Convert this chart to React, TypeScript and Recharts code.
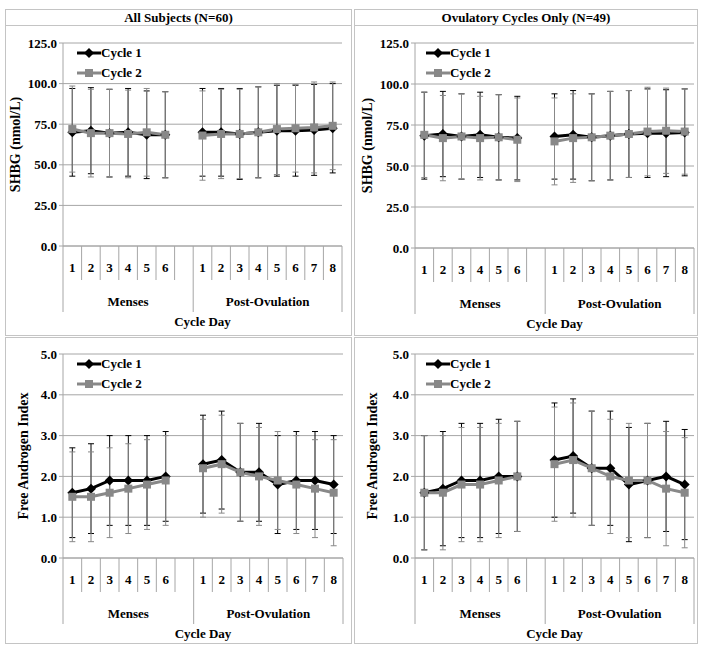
import { CartesianGrid, ErrorBar, Legend, Line, LineChart, XAxis, YAxis } from 'recharts'

const FONT = '"Liberation Serif", "Times New Roman", serif'
const GRAY = '#888888'
const GRID = '#a6a6a6'
const FRAME = '#c4c4c4'

// category axis
const mensesDays = ['1', '2', '3', '4', '5', '6']
const postDays = ['1', '2', '3', '4', '5', '6', '7', '8']
const groupNames = ['Menses', 'Post-Ovulation']
const seriesNames = ['Cycle 1', 'Cycle 2']
const panelTitles = ['All Subjects (N=60)', 'Ovulatory Cycles Only (N=49)']
const shbgTicks = [0, 25, 50, 75, 100, 125]
const faiTicks = [0, 1, 2, 3, 4, 5]

// SHBG (nmol/L), all subjects: mean and SD, menses 1-6 then post-ovulation 1-8
const allShbgC1 = [70, 71, 69.5, 70, 68.5, 68.5, 70, 70, 69, 70, 71, 71, 71.5, 72.5]
const allShbgC1Sd = [27, 26.5, 27, 27, 27, 26.5, 27, 27, 28, 28, 28, 28, 28, 27.5]
const allShbgC2 = [72, 69.5, 69.5, 69, 70, 68.5, 68, 69, 69, 70, 72, 72.5, 73, 74]
const allShbgC2Sd = [26.5, 27, 27, 27, 27, 26.5, 27.5, 27.5, 27.5, 28, 28, 27, 28, 27]

// SHBG, ovulatory cycles only
const ovShbgC1 = [68.5, 69.5, 68, 69, 67.5, 67, 68, 69, 67.5, 68.5, 69.5, 70, 70, 70.5]
const ovShbgC1Sd = [26.5, 26, 26, 26, 26, 25.5, 26, 27, 26.5, 27, 26.5, 27, 26.5, 26.5]
const ovShbgC2 = [69, 67, 68, 67, 67.5, 66, 65, 67, 67.5, 68.5, 69.5, 71, 71.5, 71]
const ovShbgC2Sd = [26, 26, 26, 25.5, 26, 25.5, 26.5, 27, 26.5, 27, 26.5, 27, 26, 26]

// Free androgen index, all subjects
const allFaiC1 = [1.6, 1.7, 1.9, 1.9, 1.9, 2.0, 2.3, 2.4, 2.1, 2.1, 1.8, 1.9, 1.9, 1.8]
const allFaiC1Sd = [1.1, 1.1, 1.1, 1.1, 1.1, 1.1, 1.2, 1.2, 1.2, 1.2, 1.2, 1.2, 1.2, 1.2]
const allFaiC2 = [1.5, 1.5, 1.6, 1.7, 1.8, 1.9, 2.2, 2.3, 2.1, 2.0, 1.9, 1.8, 1.7, 1.6]
const allFaiC2Sd = [1.1, 1.1, 1.1, 1.1, 1.1, 1.1, 1.2, 1.2, 1.2, 1.2, 1.2, 1.2, 1.2, 1.3]

// Free androgen index, ovulatory cycles only
const ovFaiC1 = [1.6, 1.7, 1.9, 1.9, 2.0, 2.0, 2.4, 2.5, 2.2, 2.2, 1.8, 1.9, 2.0, 1.8]
const ovFaiC1Sd = [1.4, 1.4, 1.4, 1.4, 1.4, 1.35, 1.4, 1.4, 1.4, 1.4, 1.4, 1.4, 1.35, 1.35]
const ovFaiC2 = [1.6, 1.6, 1.8, 1.8, 1.9, 2.0, 2.3, 2.4, 2.2, 2.0, 1.9, 1.9, 1.7, 1.6]
const ovFaiC2Sd = [1.4, 1.4, 1.4, 1.4, 1.4, 1.35, 1.4, 1.4, 1.4, 1.4, 1.4, 1.4, 1.4, 1.35]

// slot layout: Menses days, one empty slot, then Post-Ovulation days
const groups = [
    { name: groupNames[0], days: mensesDays, trailing: 1 },
    { name: groupNames[1], days: postDays, trailing: 0 },
]
const dayAt = new Map<number, string>()
const groupAt = new Map<number, string>()
const groupEdges = new Set<number>([0])
const gapSlots: number[] = []
let cursor = 0
groups.forEach((g) => {
    const start = cursor
    g.days.forEach((d, i) => dayAt.set(start + i + 0.5, d))
    cursor += g.days.length
    for (let t = 0; t < g.trailing; t++) {
        gapSlots.push(cursor + 0.5)
        cursor++
    }
    groupAt.set((start + cursor) / 2, g.name)
    groupEdges.add(cursor)
})
const slotCount = cursor
const xTicks = Array.from({ length: slotCount * 2 + 1 }, (_, i) => i / 2)

function buildRows(c1: number[], c1e: number[], c2: number[], c2e: number[]) {
    const rows: any[] = []
    const positions = [...dayAt.keys()]
    positions.forEach((x, k) => rows.push({ x, c1: c1[k], c1e: c1e[k], c2: c2[k], c2e: c2e[k] }))
    gapSlots.forEach((x) => rows.push({ x, c1: null, c2: null }))
    return rows.sort((a, b) => a.x - b.x)
}

function CategoryTick(props: any) {
    const { x, y, payload } = props
    const v = payload.value
    const day = dayAt.get(v)
    const group = groupAt.get(v)
    return (
        <g>
            {Number.isInteger(v) && (
                <line x1={x} x2={x} y1={y} y2={y + (groupEdges.has(v) ? 66 : 34)} stroke={GRID} />
            )}
            {day && (
                <text x={x} y={y + 26} textAnchor="middle" fontFamily={FONT} fontWeight="bold" fontSize={13} fill="#000">
                    {day}
                </text>
            )}
            {group && (
                <text x={x} y={y + 60} textAnchor="middle" fontFamily={FONT} fontWeight="bold" fontSize={13} fill="#000">
                    {group}
                </text>
            )}
        </g>
    )
}

const Diamond = (p: any) => {
    const { cx, cy } = p
    if (cx == null || cy == null) return <g key={p.key} />
    return <path key={p.key} d={`M${cx},${cy - 5}L${cx + 5},${cy}L${cx},${cy + 5}L${cx - 5},${cy}Z`} fill="#000" />
}
const Square = (p: any) => {
    const { cx, cy } = p
    if (cx == null || cy == null) return <g key={p.key} />
    return <rect key={p.key} x={cx - 4} y={cy - 4} width={8} height={8} fill={GRAY} />
}

function LegendBox() {
    const rows = [
        { name: seriesNames[0], color: '#000', marker: <path d="M12,1L17,6L12,11L7,6Z" fill="#000" /> },
        { name: seriesNames[1], color: GRAY, marker: <rect x={8} y={2} width={8} height={8} fill={GRAY} /> },
    ]
    return (
        <div style={{ fontFamily: FONT, fontWeight: 'bold', fontSize: 13, color: '#000' }}>
            {rows.map((r) => (
                <div key={r.name} style={{ display: 'flex', alignItems: 'center', height: 20, whiteSpace: 'nowrap' }}>
                    <svg width={24} height={12} style={{ display: 'block' }}>
                        <line x1={0} x2={24} y1={6} y2={6} stroke={r.color} strokeWidth={3} />
                        {r.marker}
                    </svg>
                    <span>{r.name}</span>
                </div>
            ))}
        </div>
    )
}

interface PanelProps {
    rows: any[]
    ticks: number[]
    yTitle: string
    yTitleX: number
    yWidth: number
    left: number
    top: number
    width: number
    height: number
    margin: { top: number; right: number; left: number; bottom: number }
}

function Panel({ rows, ticks, yTitle, yTitleX, yWidth, left, top, width, height, margin }: PanelProps) {
    return (
        <div style={{ position: 'absolute', left, top, width, height }}>
            <LineChart width={width} height={height} data={rows} margin={margin}>
                <CartesianGrid vertical={false} stroke={GRID} />
                <XAxis
                    dataKey="x"
                    type="number"
                    domain={[0, slotCount]}
                    ticks={xTicks}
                    interval={0}
                    height={84}
                    tickSize={0}
                    tickMargin={0}
                    tickLine={false}
                    axisLine={{ stroke: GRID }}
                    tick={<CategoryTick />}
                    label={{
                        content: (p: any) => (
                            <text
                                x={p.viewBox.x + p.viewBox.width / 2}
                                y={p.viewBox.y + 80}
                                textAnchor="middle"
                                fontFamily={FONT}
                                fontWeight="bold"
                                fontSize={13}
                                fill="#000"
                            >
                                Cycle Day
                            </text>
                        ),
                    }}
                />
                <YAxis
                    width={yWidth}
                    domain={[ticks[0], ticks[ticks.length - 1]]}
                    ticks={ticks}
                    interval={0}
                    tickFormatter={(v: number) => v.toFixed(1)}
                    tickSize={4}
                    tickMargin={2}
                    axisLine={{ stroke: GRID }}
                    tickLine={{ stroke: GRID }}
                    tick={{ fontFamily: FONT, fontWeight: 'bold', fontSize: 13, fill: '#000' }}
                    label={{
                        content: (p: any) => {
                            const cy = p.viewBox.y + p.viewBox.height / 2
                            const cx = p.viewBox.x + yTitleX
                            return (
                                <text
                                    x={cx}
                                    y={cy}
                                    transform={`rotate(-90 ${cx} ${cy})`}
                                    textAnchor="middle"
                                    dominantBaseline="central"
                                    fontFamily={FONT}
                                    fontWeight="bold"
                                    fontSize={14}
                                    fill="#000"
                                >
                                    {yTitle}
                                </text>
                            )
                        },
                    }}
                />
                <Legend
                    layout="vertical"
                    align="center"
                    verticalAlign="middle"
                    content={<LegendBox />}
                    wrapperStyle={{ left: 72, top: margin.top, width: 'auto', height: 'auto' }}
                />
                <Line
                    dataKey="c1"
                    name={seriesNames[0]}
                    stroke="#000"
                    strokeWidth={3}
                    dot={Diamond}
                    activeDot={false}
                    isAnimationActive={false}
                >
                    <ErrorBar dataKey="c1e" direction="y" width={3} stroke="#000" strokeWidth={1} />
                </Line>
                <Line
                    dataKey="c2"
                    name={seriesNames[1]}
                    stroke={GRAY}
                    strokeWidth={3}
                    dot={Square}
                    activeDot={false}
                    isAnimationActive={false}
                >
                    <ErrorBar dataKey="c2e" direction="y" width={3} stroke={GRAY} strokeWidth={1} />
                </Line>
            </LineChart>
        </div>
    )
}

const titleStyle = (left: number, width: number): any => ({
    position: 'absolute',
    left,
    top: 9,
    width,
    height: 17,
    boxSizing: 'border-box',
    border: `1px solid ${FRAME}`,
    textAlign: 'center',
    fontWeight: 'bold',
    fontSize: 13,
    lineHeight: '15px',
})

const frameStyle = (left: number, top: number, width: number, height: number): any => ({
    position: 'absolute',
    left,
    top,
    width,
    height,
    boxSizing: 'border-box',
    border: `1px solid ${FRAME}`,
})

export default function App() {
    return (
        <div style={{ position: 'absolute', left: 0, top: 0, width: 704, height: 652, background: '#fff', fontFamily: FONT }}>
            <div style={titleStyle(5, 347)}>{panelTitles[0]}</div>
            <div style={titleStyle(354, 344)}>{panelTitles[1]}</div>
            <div style={frameStyle(5, 25, 347, 311)} />
            <div style={frameStyle(354, 25, 344, 311)} />
            <div style={frameStyle(5, 337, 347, 307)} />
            <div style={frameStyle(354, 337, 344, 307)} />

            <Panel
                rows={buildRows(allShbgC1, allShbgC1Sd, allShbgC2, allShbgC2Sd)}
                ticks={shbgTicks}
                yTitle="SHBG (nmol/L)"
                yTitleX={10}
                yWidth={58}
                left={5}
                top={25}
                width={347}
                height={311}
                margin={{ top: 18, right: 10, left: 0, bottom: 6 }}
            />
            <Panel
                rows={buildRows(ovShbgC1, ovShbgC1Sd, ovShbgC2, ovShbgC2Sd)}
                ticks={shbgTicks}
                yTitle="SHBG (nmol/L)"
                yTitleX={13}
                yWidth={61}
                left={354}
                top={25}
                width={344}
                height={311}
                margin={{ top: 18, right: 4, left: 0, bottom: 4 }}
            />
            <Panel
                rows={buildRows(allFaiC1, allFaiC1Sd, allFaiC2, allFaiC2Sd)}
                ticks={faiTicks}
                yTitle="Free Androgen Index"
                yTitleX={18}
                yWidth={58}
                left={5}
                top={337}
                width={347}
                height={307}
                margin={{ top: 17, right: 9, left: 0, bottom: 2 }}
            />
            <Panel
                rows={buildRows(ovFaiC1, ovFaiC1Sd, ovFaiC2, ovFaiC2Sd)}
                ticks={faiTicks}
                yTitle="Free Androgen Index"
                yTitleX={18}
                yWidth={61}
                left={354}
                top={337}
                width={344}
                height={307}
                margin={{ top: 17, right: 4, left: 0, bottom: 2 }}
            />
        </div>
    )
}
